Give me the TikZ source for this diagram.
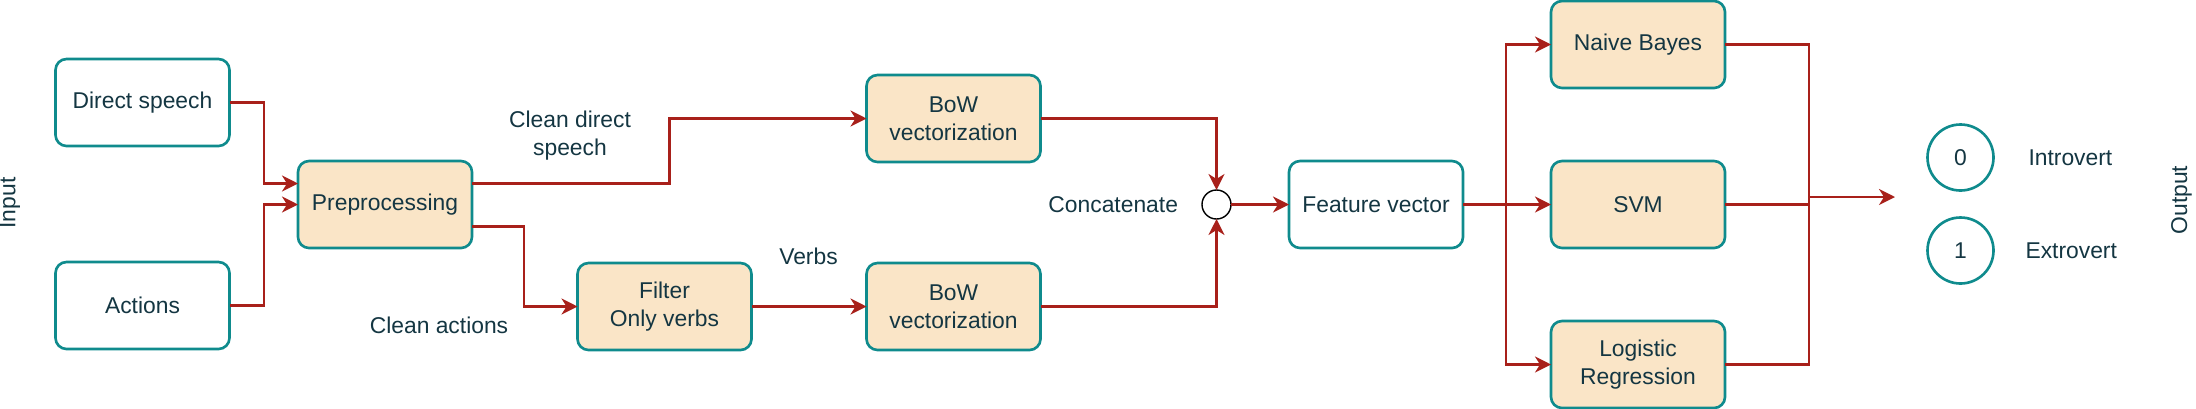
\documentclass[tikz,border=0pt]{standalone}
\usepackage{fontspec}
\setmainfont{Liberation Sans}
\usepackage{tikz}
\usetikzlibrary{positioning}
\usetikzlibrary{arrows.meta}
\usetikzlibrary{calc}
\definecolor{boxteal}{HTML}{0F8B8D}
\definecolor{boxfill}{HTML}{FAE5C7}
\definecolor{textdark}{HTML}{143642}
\definecolor{flowred}{HTML}{A8201A}
\tikzset{data node/.style={rectangle,rounded corners=0.22cm,draw=boxteal,line width=1.5pt,fill=white,text=textdark,minimum width=3.48cm,minimum height=1.74cm,inner sep=0pt,outer sep=0pt,align=center,font=\fontsize{13}{16}\selectfont},
proc node/.style={data node,fill=boxfill},
class node/.style={circle,draw=boxteal,line width=1.5pt,text=textdark,minimum size=1.32cm,inner sep=0pt,outer sep=0pt,font=\fontsize{13}{16}\selectfont},
join node/.style={circle,draw=black,line width=0.8pt,fill=white,minimum size=0.58cm,inner sep=0pt,outer sep=0pt},
tag node/.style={text=textdark,inner sep=0pt,outer sep=0pt,align=center,font=\fontsize{13}{16}\selectfont},}
\begin{document}
\begin{tikzpicture}[->, >={Stealth[length=0.32cm,width=0.32cm,inset=0.1cm]}, node distance=1.5cm, line width=1.3pt]
	\useasboundingbox (0,0) rectangle (43.92,-8.16);
	\node[data node] (ds) at (2.85,-2.05) {Direct speech};
	\node[data node] (act) [below = 2.32cm of ds] {Actions};
	\node[proc node] (pre) [below right = 0.3cm and 1.37cm of ds] {Preprocessing};
	\node[proc node] (filt) [below right = 0.3cm and 2.11cm of pre] {Filter\\Only verbs};
	\node[proc node] (bow2) [right = 2.3cm of filt] {BoW\\vectorization};
	\node[proc node] (bow1) [above = 2.02cm of bow2] {BoW\\vectorization};
	\node[join node] (cat) [right = 14.6cm of pre] {};
	\node[data node] (feat) [right = 1.16cm of cat] {Feature vector};
	\node[proc node] (svm) [right = 1.76cm of feat] {SVM};
	\node[proc node] (nb) [above = 1.46cm of svm] {Naive Bayes};
	\node[proc node] (lr) [below = 1.46cm of svm] {Logistic\\Regression};
	\node[class node] (c0) [right = 4.05cm of svm, yshift=0.94cm] {0};
	\node[class node] (c1) [below = 0.54cm of c0] {1};
	\node[tag node] (intro) [right = 0.7cm of c0] {Introvert};
	\node[tag node] (extro) [right = 0.64cm of c1] {Extrovert};
	\node[tag node, rotate=90] (inp) at (0.2,-4.06) {Input};
	\node[tag node, rotate=90] (outp) at (43.63,-4.0) {Output};
	\node[tag node] (cds) at (11.4,-2.72) {Clean direct\\speech};
	\node[tag node] (cact) at (8.78,-6.5) {Clean actions};
	\node[tag node] (verbs) at (16.17,-5.13) {Verbs};
	\node[tag node] (concat) [left = 0.48cm of cat] {Concatenate};

	% connectors
	\coordinate (merge) at ($(svm.east)+(1.68,0.15)$);
	\coordinate (outend) at ($(merge)+(1.72,0)$);
	\path[draw,flowred]
	(ds.east) -- ++(0.69,0) |- ([yshift=0.42cm]pre.west);
	\path[draw,flowred]
	(act.east) -- ++(0.69,0) |- (pre.west);
	\path[draw,flowred]
	([yshift=0.42cm]pre.east) -- ++(3.95,0) |- (bow1.west);
	\path[draw,flowred]
	([yshift=-0.44cm]pre.east) -- ++(1.04,0) |- (filt.west);
	\path[draw,flowred]
	(filt) edge (bow2)
	(cat) edge (feat)
	(feat) edge (svm);
	\path[draw,flowred] (bow1.east) -| (cat.north);
	\path[draw,flowred] (bow2.east) -| (cat.south);
	\path[draw,flowred] (feat.east) -- ++(0.86,0) |- (nb.west);
	\path[draw,flowred] (feat.east) -- ++(0.86,0) |- (lr.west);
	\path[draw,flowred,-] (nb.east) -| (merge);
	\path[draw,flowred,-] (lr.east) -| (merge);
	\path[draw,flowred,-] (svm.east) -- (svm.east -| merge);
	\path[draw,flowred] (merge) -- (outend);
\end{tikzpicture}
\end{document}
